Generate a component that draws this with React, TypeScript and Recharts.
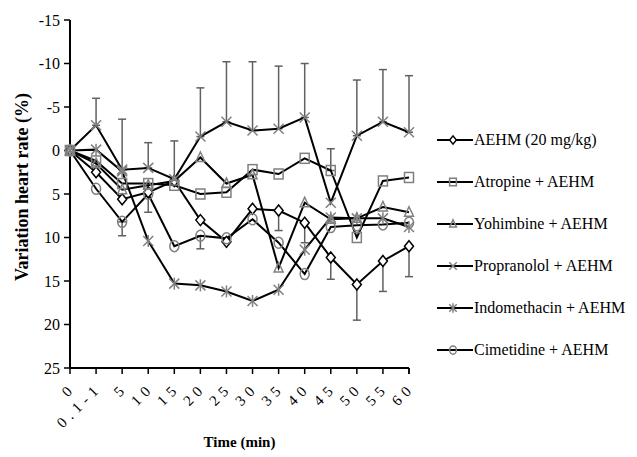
import React from "react"
import { LineChart, Line, XAxis, YAxis, ErrorBar, Legend, Label, ReferenceLine } from "recharts"

const FONT = '"Liberation Serif", "Times New Roman", Times, serif'
const GRAY = "#808080"

const times = ["0", "0.1-1", "5", "10", "15", "20", "25", "30", "35", "40", "45", "50", "55", "60"]
const yTicks = [-15, -10, -5, 0, 5, 10, 15, 20, 25]

const aehm = [0, 2.5, 5.6, 4.8, 3.5, 8.0, 10.5, 6.7, 6.9, 8.3, 12.3, 15.4, 12.7, 11.0]
const aehmErr = [null, null, null, null, null, null, null, null, 2.3, 2.3, 2.5, 4.1, 3.5, 3.5]

const atropine = [0, 1.2, 3.8, 3.8, 4.0, 5.0, 4.8, 2.2, 2.7, 0.9, 2.3, 10.0, 3.5, 3.1]
const atropineErr = [null, null, null, null, null, null, null, null, null, null, 2.5, null, null, null]

const yohimbine = [0, 1.5, 4.5, 4.0, 3.5, 0.8, 3.8, 2.8, 13.5, 6.0, 7.9, 7.8, 6.5, 7.1]

const propranolol = [0, -2.9, 2.2, 2.0, 3.3, -1.6, -3.3, -2.3, -2.5, -3.8, 6.0, -1.7, -3.3, -2.1]
const propranololErr = [null, 3.1, 5.8, 2.9, 4.4, 5.6, 6.9, 7.9, 7.2, 6.2, null, 6.4, 6.0, 6.5]

const indomethacin = [0, -0.1, 2.4, 10.4, 15.3, 15.5, 16.2, 17.3, 16.0, 11.4, 7.7, 7.8, 7.8, 8.8]

const cimetidine = [0, 4.4, 8.2, 5.0, 11.0, 9.8, 10.1, 7.9, 10.6, 14.2, 8.8, 8.6, 8.5, 8.3]
const cimetidineErr = [null, null, 1.6, 2.1, null, 1.5, null, null, null, null, null, null, null, null]

type Shape = "diamond" | "square" | "triangle" | "cross" | "star" | "circle"

const series: { key: string; name: string; values: number[]; err?: (number | null)[]; dir?: "up" | "down"; shape: Shape }[] = [
  { key: "aehm", name: "AEHM (20 mg/kg)", values: aehm, err: aehmErr, dir: "down", shape: "diamond" },
  { key: "atropine", name: "Atropine + AEHM", values: atropine, err: atropineErr, dir: "up", shape: "square" },
  { key: "yohimbine", name: "Yohimbine + AEHM", values: yohimbine, shape: "triangle" },
  { key: "propranolol", name: "Propranolol + AEHM", values: propranolol, err: propranololErr, dir: "up", shape: "cross" },
  { key: "indomethacin", name: "Indomethacin + AEHM", values: indomethacin, shape: "star" },
  { key: "cimetidine", name: "Cimetidine + AEHM", values: cimetidine, err: cimetidineErr, dir: "down", shape: "circle" },
]

const data = times.map((t, i) => {
  const row: any = { time: t }
  series.forEach((s) => {
    row[s.key] = s.values[i]
    if (s.err) {
      const e = s.err[i]
      row[s.key + "Err"] = e == null ? null : s.dir === "up" ? [e, 0] : [0, e]
    }
  })
  return row
})

function Marker({ shape, cx, cy, k = 1 }: { shape: Shape; cx: number; cy: number; k?: number }) {
  const sw = 1.5
  if (shape === "diamond") {
    const w = 4.5 * k, h = 5.5 * k
    return <polygon points={`${cx},${cy - h} ${cx + w},${cy} ${cx},${cy + h} ${cx - w},${cy}`} fill="#fff" stroke="#000" strokeWidth={sw} />
  }
  if (shape === "square") {
    const w = 4.5 * k, h = 5 * k
    return <rect x={cx - w} y={cy - h} width={2 * w} height={2 * h} fill="none" stroke={GRAY} strokeWidth={sw} />
  }
  if (shape === "triangle") {
    const w = 4.5 * k
    return <polygon points={`${cx},${cy - 5.5 * k} ${cx + w},${cy + 4 * k} ${cx - w},${cy + 4 * k}`} fill="none" stroke={GRAY} strokeWidth={sw} />
  }
  if (shape === "circle") {
    return <ellipse cx={cx} cy={cy} rx={4.5 * k} ry={5.5 * k} fill="none" stroke={GRAY} strokeWidth={sw} />
  }
  const r = 5 * k
  return (
    <g stroke={GRAY} strokeWidth={sw}>
      <line x1={cx - r} y1={cy - r} x2={cx + r} y2={cy + r} />
      <line x1={cx - r} y1={cy + r} x2={cx + r} y2={cy - r} />
      {shape === "star" && <line x1={cx} y1={cy - r - 1} x2={cx} y2={cy + r + 1} />}
    </g>
  )
}

// category labels rotated, with tick marks drawn at the band edges
const TimeTick = (p: any) => {
  const off = p.payload?.offset ?? 12
  const ay = p.y - 6
  const x = p.x + 6.5
  const y = ay + 21
  const last = p.index === times.length - 1
  return (
    <g>
      <line x1={p.x - off} y1={ay} x2={p.x - off} y2={ay + 6} stroke="#000" strokeWidth={1.5} />
      {last && <line x1={p.x + off} y1={ay} x2={p.x + off} y2={ay + 6} stroke="#000" strokeWidth={1.5} />}
      <text x={x} y={y} transform={`rotate(-45 ${x} ${y})`} textAnchor="end" fontSize={15} fontFamily={FONT} letterSpacing={5} fill="#000">
        {p.payload.value}
      </text>
    </g>
  )
}

const LegendBox = () => (
  <div>
    {series.map((s) => (
      <div key={s.key} style={{ display: "flex", alignItems: "center", height: 42 }}>
        <svg width={36} height={14} style={{ display: "block" }}>
          <line x1={0} y1={7} x2={36} y2={7} stroke="#000" strokeWidth={2} />
          <Marker shape={s.shape} cx={16} cy={7} k={0.75} />
        </svg>
        <span style={{ fontFamily: FONT, fontSize: 16, color: "#000", marginLeft: 1, whiteSpace: "nowrap" }}>{s.name}</span>
      </div>
    ))}
  </div>
)

export default function App() {
  return (
    <div style={{ position: "absolute", left: 0, top: 0, background: "#fff", fontFamily: FONT }}>
      <style>{".bar-up .recharts-errorBar line:first-child{display:none}.bar-down .recharts-errorBar line:last-child{display:none}"}</style>
      <LineChart width={637} height={457} data={data} margin={{ top: 20, right: 228, bottom: 0, left: 30 }}>
        <XAxis
          dataKey="time"
          type="category"
          interval={0}
          height={89}
          tickSize={6}
          tickMargin={0}
          axisLine={{ stroke: "#000", strokeWidth: 2 }}
          tickLine={false}
          tick={<TimeTick />}
        >
          <Label value="Time (min)" position="insideBottom" offset={10} fontFamily={FONT} fontSize={15} fontWeight="bold" fill="#000" />
        </XAxis>
        <YAxis
          reversed
          domain={[-15, 25]}
          ticks={yTicks}
          interval={0}
          width={40}
          tickSize={6}
          tickMargin={4}
          axisLine={{ stroke: "#000", strokeWidth: 2 }}
          tickLine={{ stroke: "#000", strokeWidth: 1.5 }}
          tick={{ fontFamily: FONT, fontSize: 16, fill: "#000" }}
        >
          <Label
            value="Variation  heart  rate (%)"
            angle={-90}
            position="center"
            dx={-28}
            dy={-7}
            fontFamily={FONT}
            fontSize={18}
            fontWeight="bold"
            fill="#000"
          />
        </YAxis>
        <ReferenceLine y={25} stroke="#000" strokeWidth={2} />
        <Legend layout="vertical" align="center" verticalAlign="middle" content={<LegendBox />} wrapperStyle={{ left: 437, top: 119, width: 200 }} />
        {series.map((s) => (
          <Line
            key={s.key}
            dataKey={s.key}
            name={s.name}
            className={s.dir === "up" ? "bar-up" : s.dir === "down" ? "bar-down" : undefined}
            stroke="#000"
            strokeWidth={2}
            isAnimationActive={false}
            dot={(p: any) => <Marker key={`${s.key}-${p.index}`} shape={s.shape} cx={p.cx} cy={p.cy} />}
            activeDot={false}
          >
            {s.err && (
              <ErrorBar dataKey={s.key + "Err"} direction="y" width={4} stroke="#606060" strokeWidth={1.5} isAnimationActive={false} />
            )}
          </Line>
        ))}
      </LineChart>
    </div>
  )
}
